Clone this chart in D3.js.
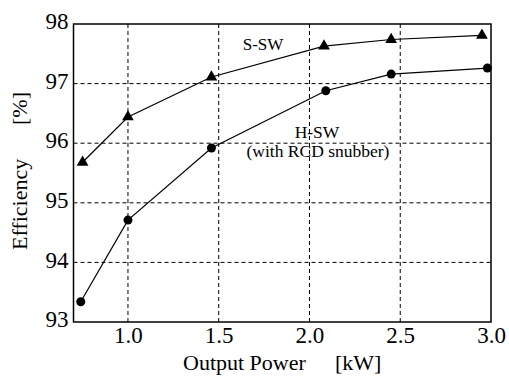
<!DOCTYPE html>
<html><head><meta charset="utf-8">
<script src="https://cdn.jsdelivr.net/npm/d3@7"></script>
<style>body{margin:0;background:#fff}svg{display:block}text{font-family:"Liberation Serif","Times New Roman",Times,serif}</style>
</head><body>
<script>
const powerSSW = [0.75, 1.0, 1.46, 2.08, 2.45, 2.95];
const effSSW   = [95.68, 96.44, 97.11, 97.63, 97.74, 97.81];
const powerHSW = [0.74, 1.0, 1.46, 2.09, 2.45, 2.98];
const effHSW   = [93.34, 94.71, 95.92, 96.88, 97.16, 97.26];
const xTicks = [1.0, 1.5, 2.0, 2.5, 3.0];
const yTicks = [93, 94, 95, 96, 97, 98];

const W = 509, H = 376;
const m = {l: 73.5, r: 18, t: 24, b: 54};
const svg = d3.select("body").append("svg").attr("width", W).attr("height", H);
const x = d3.scaleLinear().domain([0.7, 3.0]).range([m.l, W - m.r]);
const y = d3.scaleLinear().domain([93, 98]).range([H - m.b, m.t]);

// grid
svg.append("g").selectAll("line").data(xTicks.slice(0, -1)).join("line")
  .attr("x1", d => x(d)).attr("x2", d => x(d)).attr("y1", y(93)).attr("y2", y(98))
  .attr("stroke", "#000").attr("stroke-width", 1).attr("stroke-dasharray", "4,3");
svg.append("g").selectAll("line").data(yTicks.slice(1, -1)).join("line")
  .attr("x1", x(0.7)).attr("x2", x(3.0)).attr("y1", d => y(d)).attr("y2", d => y(d))
  .attr("stroke", "#000").attr("stroke-width", 1).attr("stroke-dasharray", "4,3");

// frame
svg.append("rect").attr("x", x(0.7)).attr("y", y(98))
  .attr("width", x(3.0) - x(0.7)).attr("height", y(93) - y(98))
  .attr("fill", "none").attr("stroke", "#000").attr("stroke-width", 1.5);

// axes
const xAxis = d3.axisBottom(x).tickValues(xTicks).tickFormat(d3.format(".1f")).tickSize(0);
const yAxis = d3.axisLeft(y).tickValues(yTicks).tickFormat(d3.format("d")).tickSize(0).tickPadding(5);
const gx = svg.append("g").attr("transform", `translate(0,${y(93)})`).call(xAxis);
const gy = svg.append("g").attr("transform", `translate(${x(0.7)},0)`).call(yAxis);
[gx, gy].forEach(g => {
  g.select(".domain").remove();
  g.selectAll("text").attr("font-family", null).attr("font-size", 23).attr("fill", "#000");
});
gx.selectAll("text").attr("y", 21).attr("dy", 0);
gy.selectAll("text").attr("dy", "0.2em");

// lines
const line = d3.line().x(d => x(d[0])).y(d => y(d[1]));
const sData = powerSSW.map((p, i) => [p, effSSW[i]]);
const hData = powerHSW.map((p, i) => [p, effHSW[i]]);
svg.append("path").datum(sData).attr("d", line).attr("fill", "none").attr("stroke", "#000").attr("stroke-width", 1.2);
svg.append("path").datum(hData).attr("d", line).attr("fill", "none").attr("stroke", "#000").attr("stroke-width", 1.2);

const tri = d3.symbol().type(d3.symbolTriangle).size(60);
svg.append("g").selectAll("path").data(sData).join("path")
  .attr("d", tri).attr("transform", d => `translate(${x(d[0])},${y(d[1])})`).attr("fill", "#000");
svg.append("g").selectAll("circle").data(hData).join("circle")
  .attr("cx", d => x(d[0])).attr("cy", d => y(d[1])).attr("r", 4.5).attr("fill", "#000");

// annotations
const ann = [
  {t: "S-SW", x: 263, y: 50, s: 17},
  {t: "H-SW", x: 317, y: 138, s: 17.5},
  {t: "(with RCD snubber)", x: 318, y: 157, s: 17.5}
];
svg.selectAll("text.ann").data(ann).join("text").attr("class", "ann")
  .attr("x", d => d.x).attr("y", d => d.y).attr("text-anchor", "middle")
  .attr("font-size", d => d.s).text(d => d.t);

// axis titles
const xt = svg.append("text").attr("y", 370).attr("font-size", 22);
xt.append("tspan").attr("x", 183).text("Output Power");
xt.append("tspan").attr("x", 335).text("[kW]");
const yt = svg.append("text").attr("transform", `translate(27,0) rotate(-90)`).attr("font-size", 22);
yt.append("tspan").attr("x", -250).text("Efficiency");
yt.append("tspan").attr("x", -125).text("[%]");
</script>
</body></html>
